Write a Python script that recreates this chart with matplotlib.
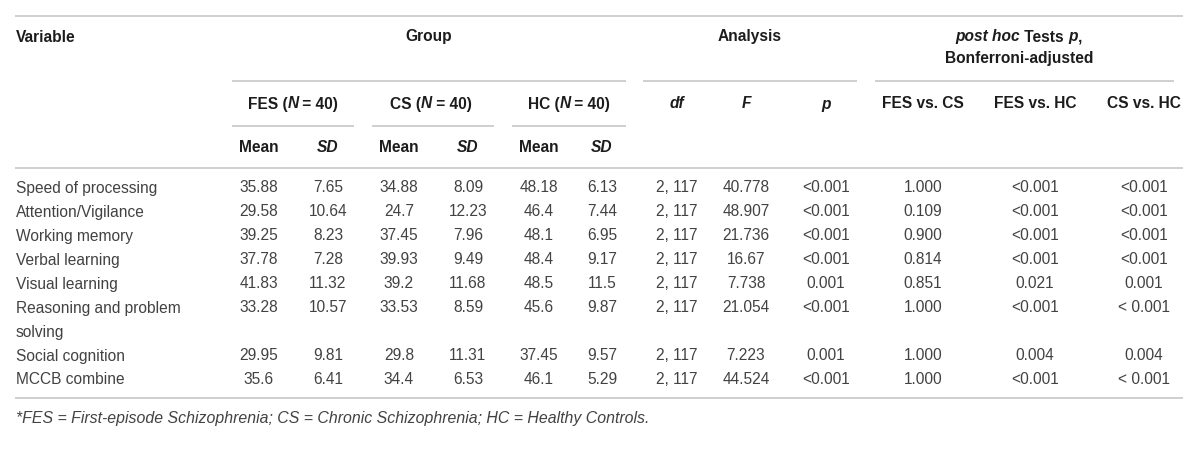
import textwrap
import matplotlib
matplotlib.use("Agg")
import matplotlib.pyplot as plt

# ---------------- data ----------------
variables = ["Speed of processing", "Attention/Vigilance", "Working memory",
             "Verbal learning", "Visual learning", "Reasoning and problem solving",
             "Social cognition", "MCCB combine"]
fes_mean = ["35.88", "29.58", "39.25", "37.78", "41.83", "33.28", "29.95", "35.6"]
fes_sd = ["7.65", "10.64", "8.23", "7.28", "11.32", "10.57", "9.81", "6.41"]
cs_mean = ["34.88", "24.7", "37.45", "39.93", "39.2", "33.53", "29.8", "34.4"]
cs_sd = ["8.09", "12.23", "7.96", "9.49", "11.68", "8.59", "11.31", "6.53"]
hc_mean = ["48.18", "46.4", "48.1", "48.4", "48.5", "45.6", "37.45", "46.1"]
hc_sd = ["6.13", "7.44", "6.95", "9.17", "11.5", "9.87", "9.57", "5.29"]
df_vals = ["2, 117", "2, 117", "2, 117", "2, 117", "2, 117", "2, 117", "2, 117", "2, 117"]
f_vals = ["40.778", "48.907", "21.736", "16.67", "7.738", "21.054", "7.223", "44.524"]
p_vals = ["<0.001", "<0.001", "<0.001", "<0.001", "0.001", "<0.001", "0.001", "<0.001"]
fes_vs_cs = ["1.000", "0.109", "0.900", "0.814", "0.851", "1.000", "1.000", "1.000"]
fes_vs_hc = ["<0.001", "<0.001", "<0.001", "<0.001", "0.021", "<0.001", "0.004", "<0.001"]
cs_vs_hc = ["<0.001", "<0.001", "<0.001", "<0.001", "0.001", "< 0.001", "0.004", "< 0.001"]
group_labels = ["FES", "CS", "HC"]
group_n = [40, 40, 40]
footnote = "*FES = First-episode Schizophrenia; CS = Chronic Schizophrenia; HC = Healthy Controls."

# ---------------- layout ----------------
FONT = "Liberation Sans"
FS = 11.2
HEAD_C = "#1c1c1c"
DATA_C = "#424242"
LINE_C = "#cfcfcf"
LW = 1.4

fig = plt.figure(figsize=(12, 4.54), dpi=100)
ax = fig.add_axes([0, 0, 1, 1])
ax.set_xlim(0, 1200)
ax.set_ylim(454, 0)
ax.axis("off")
renderer = fig.canvas.get_renderer()


def twidth(s, **kw):
    t = ax.text(0, 0, s + "|", family=FONT, fontsize=FS, **kw)
    w1 = t.get_window_extent(renderer).width
    t.remove()
    t = ax.text(0, 0, "|", family=FONT, fontsize=FS, **kw)
    w2 = t.get_window_extent(renderer).width
    t.remove()
    return w1 - w2


def rich(x, y, pieces, ha="center", color=HEAD_C):
    widths = [twidth(s, style=st, weight=wt) for s, st, wt in pieces]
    total = sum(widths)
    start = x - total / 2 if ha == "center" else x
    for (s, st, wt), w in zip(pieces, widths):
        ax.text(start, y, s, family=FONT, fontsize=FS, style=st, weight=wt,
                color=color, ha="left", va="center")
        start += w


def hline(x0, x1, y):
    ax.plot([x0, x1], [y, y], color=LINE_C, lw=LW, solid_capstyle="butt")


# rules
hline(15, 1183, 16)
hline(232, 626, 81)
hline(643, 857, 81)
hline(875, 1174, 81)
for a, b in [(232, 354), (372, 494), (512, 626)]:
    hline(a, b, 126)
hline(15, 1183, 168)
hline(15, 1183, 398)

# header row 1
ax.text(16, 37, "Variable", family=FONT, fontsize=FS, weight="bold",
        color=HEAD_C, ha="left", va="center")
ax.text(429, 37, "Group", family=FONT, fontsize=FS, weight="bold",
        color=HEAD_C, ha="center", va="center")
ax.text(750, 37, "Analysis", family=FONT, fontsize=FS, weight="bold",
        color=HEAD_C, ha="center", va="center")
rich(1019, 37, [("post hoc", "italic", "bold"), (" Tests ", "normal", "bold"),
                ("p", "italic", "bold"), (",", "normal", "bold")])
rich(1019, 58, [("Bonferroni-adjusted", "normal", "bold")])

# header row 2
group_x = [293, 431, 569]
for gx, g, n in zip(group_x, group_labels, group_n):
    rich(gx, 104, [(f"{g} (", "normal", "bold"), ("N", "italic", "bold"),
                   (f" = {n})", "normal", "bold")])
for cx, lab in zip([677, 746, 826], ["df", "F", "p"]):
    rich(cx, 104, [(lab, "italic", "bold")])
for cx, lab in zip([923, 1035, 1144], ["FES vs. CS", "FES vs. HC", "CS vs. HC"]):
    rich(cx, 104, [(lab, "normal", "bold")])

# header row 3
for mx, sx in [(259, 328), (399, 468), (539, 602)]:
    rich(mx, 148, [("Mean", "normal", "bold")])
    rich(sx, 148, [("SD", "italic", "bold")])

# body
col_x = [259, 328, 399, 468, 539, 602, 677, 746, 826, 923, 1035, 1144]
cols = [fes_mean, fes_sd, cs_mean, cs_sd, hc_mean, hc_sd,
        df_vals, f_vals, p_vals, fes_vs_cs, fes_vs_hc, cs_vs_hc]
y = 188
step = 24
for i, var in enumerate(variables):
    lines = textwrap.wrap(var, 21)
    for k, ln in enumerate(lines):
        ax.text(16, y + k * step, ln, family=FONT, fontsize=FS, color=DATA_C,
                ha="left", va="center")
    for cx, col in zip(col_x, cols):
        ax.text(cx, y, col[i], family=FONT, fontsize=FS, color=DATA_C,
                ha="center", va="center")
    y += step * len(lines)

ax.text(16, 419, footnote, family=FONT, fontsize=11.4, style="italic",
        color=DATA_C, ha="left", va="center")

fig.savefig("out.png", dpi=100)
